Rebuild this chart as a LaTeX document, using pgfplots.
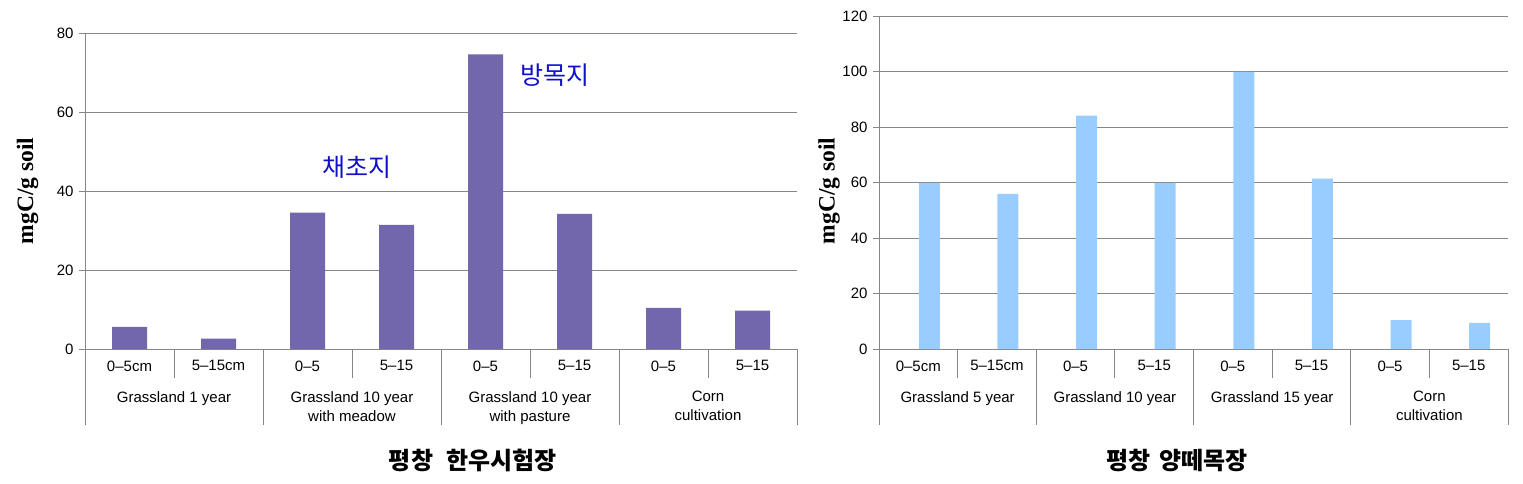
\documentclass[border=0pt]{standalone}
\usepackage{fontspec}
\usepackage{pgfplots}
\pgfplotsset{compat=1.18}
\setmainfont{Liberation Sans}
\newfontfamily\kr{Noto Sans CJK KR}
\newfontfamily\tnr{Liberation Serif}
\definecolor{barpurple}{RGB}{114,102,172}
\definecolor{barblue}{RGB}{153,204,255}
\definecolor{gridgray}{RGB}{134,134,134}
\definecolor{annblue}{RGB}{16,16,200}
\pgfplotsset{
  common/.style={
    scale only axis, anchor=south west,
    xmin=0.5, xmax=8.5, ymin=0,
    xtick={1,...,8},
    axis lines=left,
    axis line style={gridgray,-,line width=0.8pt},
    ymajorgrids,
    major grid style={gridgray,line width=0.8pt},
    tick align=outside, major tick length=6pt,
    ytick style={gridgray,line width=0.8pt},
    xtick style={draw=none},
    clip=false,
    /pgf/number format/assume math mode=true,
    tick label style={font=\fontsize{15}{18}\selectfont, text=black},
    xticklabel style={yshift=-2pt, text depth=0pt},
    yticklabel style={xshift=-2pt},
  },
}
\tikzset{grp/.style={anchor=north, align=center, inner sep=0pt, yshift=-42pt, font=\fontsize{15}{19}\selectfont}}
\begin{document}
\begin{tikzpicture}
\useasboundingbox (0,0) rectangle (1523pt,483pt);
% ---------------- left panel ----------------
\begin{axis}[common, at={(85pt,134pt)}, width=712pt, height=316pt,
  ymax=80, ytick={0,20,40,60,80}, bar width=35pt,
  xticklabels={0--5cm,5--15cm,0--5,5--15,0--5,5--15,0--5,5--15}]
\addplot[ybar, fill=barpurple, draw=none] coordinates
  {(1,5.6) (2,2.6) (3,34.5) (4,31.4) (5,74.6) (6,34.2) (7,10.4) (8,9.7)};
\pgfplotsinvokeforeach{0.5,2.5,4.5,6.5,8.5}{\draw[gridgray,line width=0.8pt] (axis cs:#1,0) -- ++(0pt,-76pt);}
\pgfplotsinvokeforeach{1.5,3.5,5.5,7.5}{\draw[gridgray,line width=0.8pt] (axis cs:#1,0) -- ++(0pt,-29pt);}
\node[grp] at (axis cs:1.5,0) {Grassland 1 year};
\node[grp] at (axis cs:3.5,0) {Grassland 10 year\\with meadow};
\node[grp] at (axis cs:5.5,0) {Grassland 10 year\\with pasture};
\node[grp] at (axis cs:7.5,0) {Corn\\cultivation};
\node[text=annblue, font=\kr\fontsize{25}{29}\selectfont] at (axis cs:3.56,46) {채초지};
\node[text=annblue, font=\kr\fontsize{25}{29}\selectfont] at (axis cs:5.78,69.4) {방목지};
\end{axis}
% ---------------- right panel ----------------
\begin{axis}[common, at={(879pt,134pt)}, width=629pt, height=333pt,
  ymax=120, ytick={0,20,40,60,80,100,120}, bar width=21pt,
  xticklabels={0--5cm,5--15cm,0--5,5--15,0--5,5--15,0--5,5--15}]
\addplot[ybar, bar shift=11pt, fill=barblue, draw=none] coordinates
  {(1,59.9) (2,55.9) (3,84.1) (4,59.9) (5,99.9) (6,61.4) (7,10.4) (8,9.4)};
\pgfplotsinvokeforeach{0.5,2.5,4.5,6.5,8.5}{\draw[gridgray,line width=0.8pt] (axis cs:#1,0) -- ++(0pt,-76pt);}
\pgfplotsinvokeforeach{1.5,3.5,5.5,7.5}{\draw[gridgray,line width=0.8pt] (axis cs:#1,0) -- ++(0pt,-29pt);}
\node[grp] at (axis cs:1.5,0) {Grassland 5 year};
\node[grp] at (axis cs:3.5,0) {Grassland 10 year};
\node[grp] at (axis cs:5.5,0) {Grassland 15 year};
\node[grp] at (axis cs:7.5,0) {Corn\\cultivation};
\end{axis}
% ---------------- titles and labels ----------------
\node[font=\kr\bfseries\fontsize{24}{28}\selectfont] at (473pt,23pt) {평창\hspace{8pt} 한우시험장};
\node[font=\kr\bfseries\fontsize{24}{28}\selectfont] at (1177pt,23pt) {평창\hspace{3pt} 양떼목장};
\node[rotate=90, font=\tnr\bfseries\fontsize{23.5}{27}\selectfont] at (27.5pt,292pt) {mgC/g soil};
\node[rotate=90, font=\tnr\bfseries\fontsize{23.5}{27}\selectfont] at (829pt,292pt) {mgC/g soil};
\end{tikzpicture}
\end{document}
